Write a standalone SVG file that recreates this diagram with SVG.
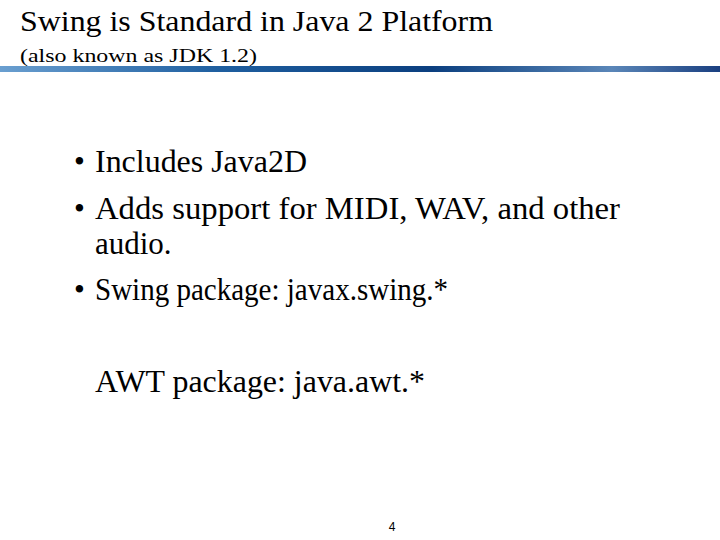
<svg xmlns="http://www.w3.org/2000/svg" width="720" height="540" viewBox="0 0 720 540">
<defs>
<linearGradient id="bar" x1="0" x2="1" y1="0" y2="0">
<stop offset="0" stop-color="#6a9fd0"/><stop offset="0.3" stop-color="#1f5fa0"/><stop offset="0.6" stop-color="#0b3f7f"/><stop offset="0.85" stop-color="#5a86b8"/><stop offset="1" stop-color="#1a3f80"/>
</linearGradient>
</defs>
<style>
text{font-family:"Liberation Serif","Times New Roman",serif;fill:#000}
.b{font-size:31px}
</style>
<rect width="720" height="540" fill="#fff"/>
<rect x="0" y="66" width="720" height="6" fill="url(#bar)"/>
<text x="20" y="31" font-size="30" textLength="473" lengthAdjust="spacingAndGlyphs">Swing is Standard in Java 2 Platform</text>
<text x="20" y="62" font-size="19" textLength="237" lengthAdjust="spacingAndGlyphs">(also known as JDK 1.2)</text>
<g class="b">
<text class="b" x="74" y="172">•</text><text class="b" x="95" y="172" textLength="212" lengthAdjust="spacingAndGlyphs">Includes Java2D</text>
<text class="b" x="74" y="219">•</text><text class="b" x="95" y="219" textLength="525" lengthAdjust="spacingAndGlyphs">Adds support for MIDI, WAV, and other</text>
<text class="b" x="95" y="254">audio.</text>
<text class="b" x="74" y="300">•</text><text class="b" x="95" y="300" textLength="353" lengthAdjust="spacingAndGlyphs">Swing package: javax.swing.*</text>
<text class="b" x="95" y="392" textLength="330" lengthAdjust="spacingAndGlyphs">AWT package: java.awt.*</text>
</g>
<text x="392" y="531" style="font-family:'Liberation Sans',sans-serif" font-size="12" text-anchor="middle">4</text>
</svg>
